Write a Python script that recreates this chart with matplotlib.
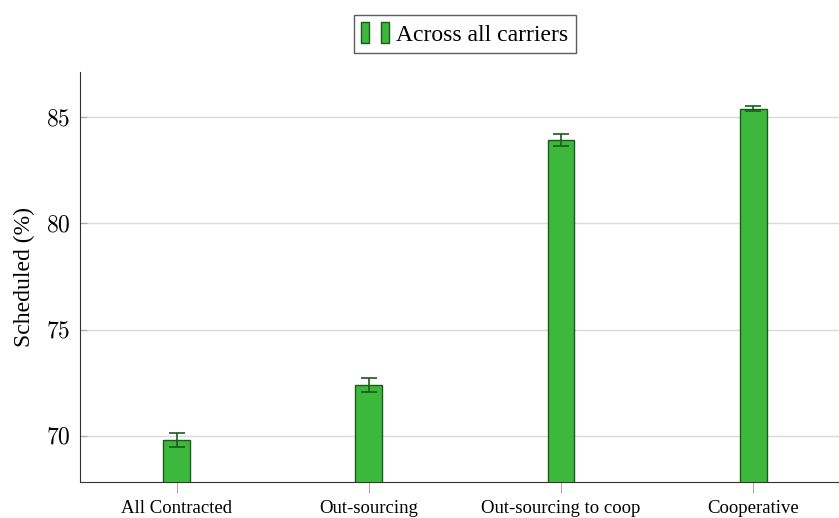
import matplotlib.pyplot as plt
import matplotlib.patches as mpatches
from matplotlib.legend_handler import HandlerTuple
from matplotlib.ticker import FuncFormatter

plt.rcParams['font.family'] = 'Liberation Serif'
plt.rcParams['mathtext.fontset'] = 'cm'

categories = ['All Contracted', 'Out-sourcing', 'Out-sourcing to coop', 'Cooperative']
scheduled = [69.8, 72.4, 83.93, 85.4]
errors = [0.33, 0.33, 0.28, 0.13]

bar_color = '#3cb83c'
edge_color = '#1b5a1b'

fig = plt.figure(figsize=(8.39, 5.18), dpi=100)
ax = fig.add_axes([0.0959, 0.0695, 0.905, 0.7915])

x = list(range(len(categories)))
ax.bar(x, scheduled, width=0.14, color=bar_color, edgecolor=edge_color, linewidth=1.0,
       yerr=errors, error_kw=dict(ecolor=edge_color, elinewidth=1.2, capsize=6, capthick=1.2),
       zorder=3)

ax.set_xlim(-0.5, 3.45)
ax.set_ylim(67.83, 87.12)
ax.set_xticks(x)
ax.set_xticklabels(categories, fontsize=13.5)
ax.set_yticks([70, 75, 80, 85])
ax.yaxis.set_major_formatter(FuncFormatter(lambda v, p: r'$%d$' % v))
ax.tick_params(axis='y', labelsize=17, direction='in', length=5, color='#aaaaaa', pad=7)
ax.tick_params(axis='x', direction='out', length=8, color='#aaaaaa', pad=5)
ax.set_ylabel('Scheduled (%)', fontsize=17, labelpad=8)
ax.grid(axis='y', color='#d9d9d9', linewidth=1.0, zorder=0)

for side in ['top', 'right']:
    ax.spines[side].set_visible(False)
ax.spines['left'].set_color('#333333')
ax.spines['bottom'].set_color('#333333')

h1 = mpatches.Rectangle((0, 0), 1, 1, facecolor=bar_color, edgecolor=edge_color)
h2 = mpatches.Rectangle((0, 0), 1, 1, facecolor=bar_color, edgecolor=edge_color)
fig.legend(handles=[(h1, h2)], labels=['Across all carriers'],
           handler_map={tuple: HandlerTuple(ndivide=None, pad=0.5)},
           loc='upper center', bbox_to_anchor=(0.554, 0.971), fontsize=17,
           handlelength=1.2, handleheight=1.0, handletextpad=0.3,
           frameon=True, fancybox=False, edgecolor='#333333', borderpad=0.3,
           borderaxespad=0)

fig.savefig('out.png', dpi=100)
